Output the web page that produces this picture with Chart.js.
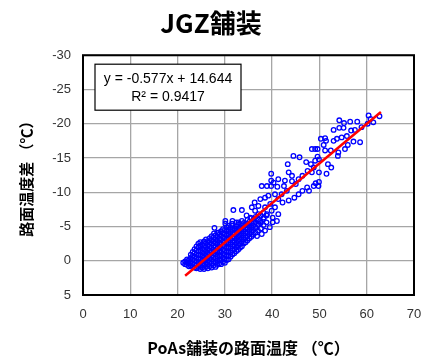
<!DOCTYPE html>
<html>
<head>
<meta charset="utf-8">
<script src="https://cdn.jsdelivr.net/npm/chart.js@4.4.1/dist/chart.umd.min.js"></script>
<style>
  html, body { margin: 0; padding: 0; background: #ffffff; }
  #wrap { width: 424px; height: 356px; }
</style>
</head>
<body>
<div id="wrap"><canvas id="chart" width="424" height="356"></canvas></div>
<script>
// Text
const chartTitle = 'JGZ舗装';
const xAxisTitle = 'PoAs舗装の路面温度 （℃）';
const yAxisTitle = '路面温度差 （℃）';

// Linear regression of the temperature difference on PoAs surface temperature
const slope = -0.577;
const intercept = 14.644;
const rSquared = 0.9417;
const trendRange = [21.6, 63.0];

// Axis ticks
const xTicks = [0, 10, 20, 30, 40, 50, 60, 70];
const yTicks = [-30, -25, -20, -15, -10, -5, 0, 5];

// Observations [PoAs surface temperature, temperature difference] — spread part
const sparsePoints = [
  [60.4, -21.2], [60.8, -20.7], [62.7, -21.1], [61.4, -20.2], [60.2, -20.0],
  [58.0, -20.3], [56.5, -20.3], [54.2, -20.5], [55.2, -20.1], [55.1, -19.4],
  [54.2, -19.4], [53.0, -19.1], [58.9, -19.5], [56.7, -19.0], [57.5, -19.1],
  [51.2, -17.9], [50.3, -17.8], [51.4, -17.5], [53.0, -17.5], [53.7, -17.8],
  [54.7, -18.0], [55.8, -18.2], [56.0, -16.9], [55.4, -16.3], [58.6, -17.3],
  [57.2, -17.4], [50.9, -16.9], [51.2, -16.1], [48.4, -16.3], [49.1, -16.3],
  [49.6, -16.3], [52.4, -16.1], [54.0, -15.8], [53.9, -15.3], [49.6, -15.2],
  [49.9, -14.8], [49.1, -14.6], [48.2, -14.1], [47.2, -14.4], [45.8, -15.1],
  [44.5, -15.3], [43.3, -14.1], [51.8, -14.1], [52.5, -13.6], [51.5, -12.7],
  [49.9, -12.9], [48.4, -12.9], [47.5, -13.1], [48.8, -13.6], [46.4, -12.4],
  [45.6, -11.9], [44.2, -12.4], [43.5, -12.9], [44.2, -11.6], [42.7, -11.7],
  [45.0, -11.2], [41.3, -11.9], [39.8, -12.7], [39.8, -11.7], [40.3, -11.4],
  [37.8, -10.9], [38.9, -10.9], [39.8, -10.9], [41.1, -10.8], [42.5, -10.9],
  [43.1, -10.2], [42.0, -9.7], [40.6, -9.7], [41.3, -9.0], [42.2, -8.5],
  [43.5, -8.8], [44.7, -9.2], [45.6, -9.7], [46.4, -10.2], [47.4, -10.7],
  [47.8, -10.2], [49.2, -11.3], [49.8, -10.9], [48.8, -10.9], [49.9, -11.5],
  [37.5, -9.0], [38.5, -9.2], [39.2, -9.5], [36.3, -8.5], [37.1, -8.0],
  [38.5, -7.8], [39.6, -8.3], [40.6, -7.8], [39.9, -7.3], [41.3, -6.8],
  [40.1, -6.3], [41.0, -5.8], [40.1, -5.6], [38.9, -6.8], [38.2, -6.3],
  [37.5, -5.8], [37.1, -6.8], [36.4, -7.3], [35.7, -7.8], [33.6, -7.4],
  [31.8, -7.4], [34.6, -6.6], [35.4, -6.3], [36.1, -6.1], [37.1, -5.4],
  [35.7, -4.9], [34.6, -5.4], [32.9, -5.6], [31.6, -5.8], [30.1, -5.4],
  [27.8, -4.8], [27.7, -4.0], [28.7, -4.1], [30.1, -5.8], [31.5, -5.4],
  [32.2, -4.6], [38.5, -4.4], [39.5, -4.9], [36.8, -3.6], [37.8, -3.9]
];

// Dense part of the observations, listed by temperature column: [x, [y values]]
const clusterColumns = [
  [21.2, [0.3]],
  [21.6, [0.5, 0.1]],
  [22.0, [0.6, 0.2, -0.2]],
  [22.4, [0.8, 0.4, -0.1]],
  [22.8, [0.7, 0.2, -0.4, -0.9]],
  [23.2, [0.9, 0.4, -0.2, -0.7, -1.3]],
  [23.6, [1.0, 0.5, 0.0, -0.6, -1.1, -1.7]],
  [24.0, [1.1, 0.6, 0.1, -0.4, -0.9, -1.5, -2.1]],
  [24.4, [0.9, 0.3, -0.3, -0.8, -1.4, -1.9, -2.5]],
  [24.8, [1.2, 0.7, 0.2, -0.3, -0.9, -1.5, -2.2, -2.7]],
  [25.2, [1.0, 0.4, -0.1, -0.7, -1.2, -1.8, -2.4]],
  [25.6, [1.2, 0.6, 0.0, -0.5, -1.1, -1.6, -2.2, -2.8]],
  [26.0, [0.9, 0.3, -0.3, -0.8, -1.4, -2.0, -2.6, -3.1]],
  [26.4, [1.1, 0.5, 0.0, -0.6, -1.2, -1.7, -2.3, -2.9]],
  [26.8, [0.8, 0.2, -0.4, -0.9, -1.5, -2.1, -2.7, -3.3]],
  [27.2, [1.0, 0.4, -0.2, -0.7, -1.3, -1.9, -2.5, -3.0, -3.6]],
  [27.6, [0.7, 0.1, -0.5, -1.1, -1.6, -2.2, -2.8, -3.4]],
  [28.0, [0.9, 0.3, -0.3, -0.9, -1.4, -2.0, -2.6, -3.1, -3.7]],
  [28.4, [0.6, 0.0, -0.6, -1.2, -1.8, -2.4, -2.9, -3.5, -4.1]],
  [28.8, [0.4, -0.2, -0.8, -1.4, -2.0, -2.6, -3.2, -3.8]],
  [29.2, [0.5, -0.1, -0.7, -1.3, -1.9, -2.5, -3.1, -3.7, -4.3]],
  [29.6, [0.2, -0.4, -1.0, -1.6, -2.2, -2.8, -3.4, -4.0, -4.6]],
  [30.0, [0.3, -0.3, -0.9, -1.5, -2.1, -2.7, -3.3, -3.9, -4.5]],
  [30.4, [-0.1, -0.7, -1.3, -1.9, -2.5, -3.1, -3.7, -4.3, -4.9]],
  [30.8, [-0.2, -0.8, -1.4, -2.0, -2.7, -3.3, -3.9, -4.5, -5.1]],
  [31.2, [-0.6, -1.2, -1.8, -2.4, -3.0, -3.6, -4.2, -4.8]],
  [31.6, [-0.9, -1.5, -2.1, -2.7, -3.3, -3.9, -4.5, -5.1]],
  [32.0, [-1.1, -1.7, -2.3, -2.9, -3.5, -4.1, -4.7]],
  [32.4, [-1.4, -2.0, -2.6, -3.2, -3.8, -4.4, -5.0, -5.6]],
  [32.8, [-1.6, -2.2, -2.9, -3.5, -4.1, -4.7, -5.3]],
  [33.2, [-1.9, -2.5, -3.1, -3.7, -4.3, -4.9]],
  [33.6, [-2.1, -2.8, -3.4, -4.0, -4.6, -5.2, -5.8]],
  [34.0, [-2.5, -3.1, -3.7, -4.3, -4.9, -5.5]],
  [34.4, [-2.7, -3.4, -4.0, -4.6, -5.2]],
  [34.8, [-3.0, -3.6, -4.2, -4.8, -5.4, -6.0]],
  [35.2, [-3.3, -3.9, -4.5, -5.1, -5.7]],
  [35.6, [-3.5, -4.2, -4.8, -5.5, -6.2]],
  [36.0, [-3.8, -4.5, -5.1, -5.8]],
  [36.5, [-4.1, -4.8, -5.6, -6.4]],
  [37.0, [-4.4, -5.2, -6.0]],
  [37.6, [-4.7, -5.5, -6.6]],
  [38.2, [-5.2, -6.1, -7.0]],
  [38.8, [-5.6, -6.6]]
];

const FONT = '"Liberation Sans", "Noto Sans CJK JP", sans-serif';
const CJK_FONT = '"Noto Sans CJK JP", "Liberation Sans", sans-serif';

const scatterData = sparsePoints.map(([x, y]) => ({ x, y }));
clusterColumns.forEach(([x, ys]) => ys.forEach(y => scatterData.push({ x, y })));

const trendData = trendRange.map(x => ({ x, y: slope * x + intercept }));

// Black frame round the plot area
const plotFrame = {
  id: 'plotFrame',
  beforeDatasetsDraw(chart) {
    const { ctx, chartArea: a } = chart;
    ctx.save();
    ctx.strokeStyle = '#000000';
    ctx.lineWidth = 2;
    ctx.strokeRect(a.left, a.top, a.right - a.left, a.bottom - a.top);
    ctx.restore();
  }
};

// Regression equation box in the upper left corner
const equationBox = {
  id: 'equationBox',
  afterDatasetsDraw(chart) {
    const { ctx, chartArea: a } = chart;
    const x = a.left + 12, y = a.top + 9, w = 146, h = 46;
    ctx.save();
    ctx.fillStyle = '#ffffff';
    ctx.fillRect(x, y, w, h);
    ctx.strokeStyle = '#000000';
    ctx.lineWidth = 1.2;
    ctx.strokeRect(x, y, w, h);
    ctx.fillStyle = '#000000';
    ctx.font = '14px ' + FONT;
    ctx.textAlign = 'center';
    ctx.textBaseline = 'middle';
    ctx.fillText('y = ' + slope.toFixed(3) + 'x + ' + intercept.toFixed(3), x + w / 2, y + 15);
    ctx.fillText('R² = ' + rSquared.toFixed(4), x + w / 2, y + 33);
    ctx.restore();
  }
};

new Chart(document.getElementById('chart'), {
  type: 'scatter',
  data: {
    datasets: [
      {
        label: 'trend',
        data: trendData,
        showLine: true,
        borderColor: '#ff0000',
        borderWidth: 2.5,
        pointRadius: 0,
        fill: false,
        order: 0
      },
      {
        label: 'observed',
        data: scatterData,
        pointStyle: 'circle',
        pointRadius: 2.3,
        borderWidth: 1.3,
        borderColor: '#0000ff',
        backgroundColor: 'rgba(0,0,0,0)',
        order: 1
      }
    ]
  },
  options: {
    responsive: false,
    animation: false,
    devicePixelRatio: 1,
    layout: { padding: { left: 8, right: 10, top: 0, bottom: 0 } },
    plugins: {
      legend: { display: false },
      tooltip: { enabled: false },
      title: {
        display: true,
        text: chartTitle,
        color: '#000000',
        font: { family: CJK_FONT, size: 26, weight: 'bold', lineHeight: 1.2 },
        padding: { top: 8, bottom: 16 }
      }
    },
    scales: {
      x: {
        type: 'linear',
        min: 0,
        max: 70,
        afterBuildTicks(scale) { scale.ticks = xTicks.map(v => ({ value: v })); },
        ticks: { color: '#333333', font: { family: FONT, size: 13 }, padding: 12 },
        grid: { color: '#a6a6a6', lineWidth: 1.3, drawTicks: false },
        border: { display: false },
        title: {
          display: true,
          text: xAxisTitle,
          color: '#000000',
          font: { family: CJK_FONT, size: 16, weight: 'bold', lineHeight: 1 },
          padding: { top: 0, bottom: 0 }
        },
        afterFit(scale) {
          scale.height = 61;
          scale.paddingRight = 0;
          scale.paddingLeft = 0;
        }
      },
      y: {
        type: 'linear',
        min: -30,
        max: 5,
        reverse: true,
        afterBuildTicks(scale) { scale.ticks = yTicks.map(v => ({ value: v })); },
        ticks: { color: '#333333', font: { family: FONT, size: 13 }, padding: 12 },
        grid: { color: '#a6a6a6', lineWidth: 1.3, drawTicks: false },
        border: { display: false },
        title: {
          display: true,
          text: yAxisTitle,
          color: '#000000',
          font: { family: CJK_FONT, size: 15, weight: 'bold', lineHeight: 1.2 },
          padding: { top: 9, bottom: 0 }
        },
        afterFit(scale) {
          scale.width = 75;
          scale.paddingTop = 0;
          scale.paddingBottom = 0;
        }
      }
    }
  },
  plugins: [plotFrame, equationBox]
});
</script>
</body>
</html>
